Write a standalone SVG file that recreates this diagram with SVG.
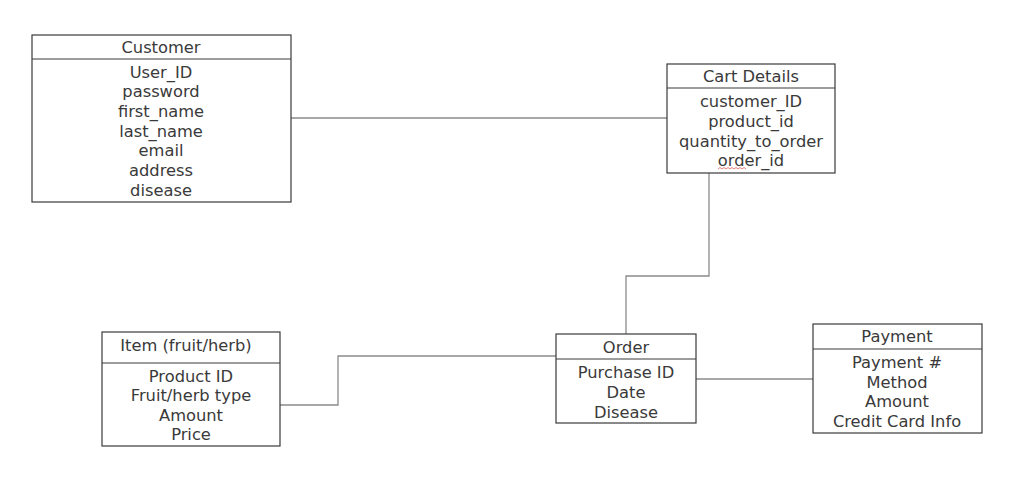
<svg xmlns="http://www.w3.org/2000/svg" width="1024" height="487" viewBox="0 0 1024 487">
<style>
.box{fill:#ffffff;stroke:#3a3a3a;stroke-width:1.2}
.sep{stroke:#3a3a3a;stroke-width:1.2}
.t{font-family:"DejaVu Sans",Verdana,sans-serif;font-size:16.3px;fill:#3a3a3a;text-anchor:middle}
.conn{fill:none;stroke:#8a8a8a;stroke-width:1.3}
</style>
<rect width="1024" height="487" fill="#ffffff"/>
<g id="connectors">
<path class="conn" d="M291,118 H667"/>
<path class="conn" d="M709,173 V276 H626 V334"/>
<path class="conn" d="M280,405 H338 V356 H556"/>
<path class="conn" d="M696,379 H813"/>
</g>
<g id="customer">
<rect class="box" x="32" y="35" width="259" height="167"/>
<line class="sep" x1="32" y1="59" x2="291" y2="59"/>
<text class="t" x="161" y="53">Customer</text>
<text class="t" x="161" y="78">User_ID</text>
<text class="t" x="161" y="97">password</text>
<text class="t" x="161" y="117">first_name</text>
<text class="t" x="161" y="137">last_name</text>
<text class="t" x="161" y="156">email</text>
<text class="t" x="161" y="176">address</text>
<text class="t" x="161" y="196">disease</text>
</g>
<g id="cart-details">
<rect class="box" x="667" y="64" width="168" height="109"/>
<line class="sep" x1="667" y1="88" x2="835" y2="88"/>
<text class="t" x="751" y="82">Cart Details</text>
<text class="t" x="751" y="107">customer_ID</text>
<text class="t" x="751" y="127">product_id</text>
<text class="t" x="751" y="147">quantity_to_order</text>
<text class="t" x="751" y="166">order_id</text>
<path d="M718,169 l2,-1.5 l2,1.5 l2,-1.5 l2,1.5 l2,-1.5 l2,1.5 l2,-1.5 l2,1.5 l2,-1.5 l2,1.5 l2,-1.5 l2,1.5 l2,-1.5 l2,1.5" fill="none" stroke="#e06060" stroke-width="0.8"/>
</g>
<g id="item">
<rect class="box" x="102" y="332" width="178" height="114"/>
<line class="sep" x1="102" y1="363" x2="280" y2="363"/>
<text class="t" x="186" y="351">Item (fruit/herb)</text>
<text class="t" x="191" y="382">Product ID</text>
<text class="t" x="191" y="401">Fruit/herb type</text>
<text class="t" x="191" y="421">Amount</text>
<text class="t" x="191" y="440">Price</text>
</g>
<g id="order">
<rect class="box" x="556" y="334" width="140" height="89"/>
<line class="sep" x1="556" y1="359" x2="696" y2="359"/>
<text class="t" x="626" y="353">Order</text>
<text class="t" x="626" y="378">Purchase ID</text>
<text class="t" x="626" y="398">Date</text>
<text class="t" x="626" y="418">Disease</text>
</g>
<g id="payment">
<rect class="box" x="813" y="324" width="169" height="109"/>
<line class="sep" x1="813" y1="349" x2="982" y2="349"/>
<text class="t" x="897" y="342">Payment</text>
<text class="t" x="897" y="368">Payment #</text>
<text class="t" x="897" y="388">Method</text>
<text class="t" x="897" y="407">Amount</text>
<text class="t" x="897" y="427">Credit Card Info</text>
</g>
</svg>
